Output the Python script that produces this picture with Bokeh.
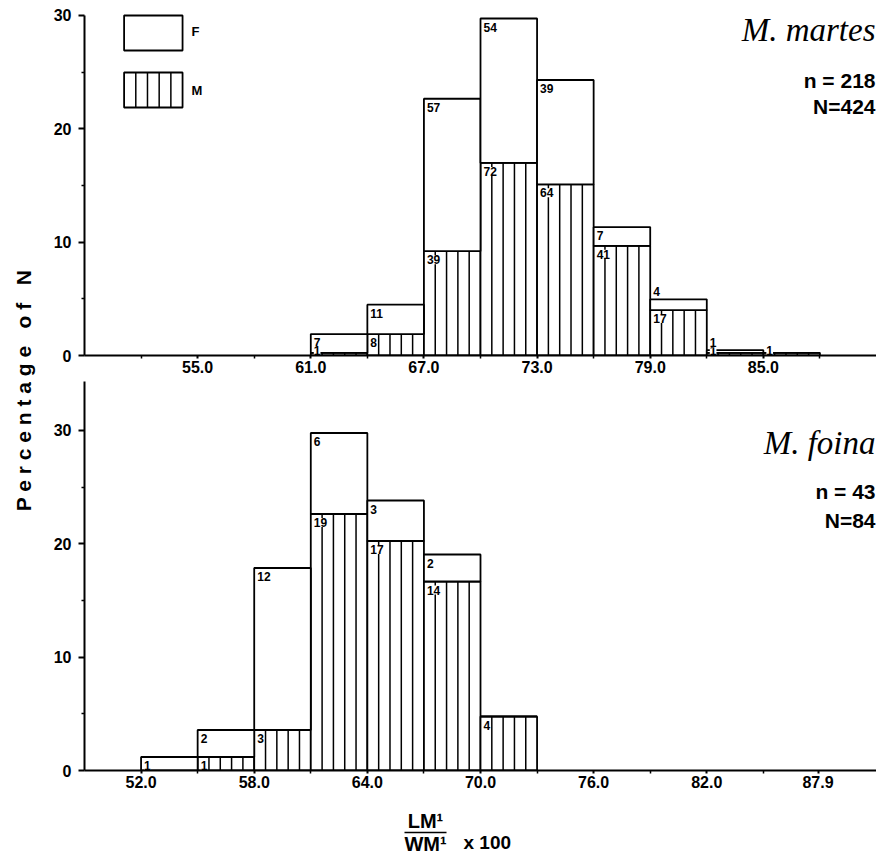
import math
import numpy as np
from bokeh.plotting import figure
from bokeh.layouts import row, column
from bokeh.models import Range1d, FixedTicker, PrintfTickFormatter
from bokeh.core.properties import value
from bokeh.embed import file_html
from bokeh.resources import INLINE

# ---------------- data ----------------
BIN_WIDTH = 3.0

top_bins = [61, 64, 67, 70, 73, 76, 79, 82, 85]
top_F = [7, 11, 57, 54, 39, 7, 4, 1, 0]
top_M = [1, 8, 39, 72, 64, 41, 17, 1, 1]
top_N_total = 424
top_n = 218
top_species = "M. martes"
top_ticks = [55.0, 61.0, 67.0, 73.0, 79.0, 85.0]
top_minor = [52.0, 58.0, 64.0, 70.0, 76.0, 82.0, 88.0]

bot_bins = [52, 55, 58, 61, 64, 67, 70]
bot_F = [1, 2, 12, 6, 3, 2, 0]
bot_M = [0, 1, 3, 19, 17, 14, 4]
bot_N_total = 84
bot_n = 43
bot_species = "M. foina"
bot_ticks = [52.0, 58.0, 64.0, 70.0, 76.0, 82.0, 87.9]
bot_minor = [55.0, 61.0, 67.0, 73.0, 79.0, 85.0]

y_ticks = [0, 10, 20, 30]
y_minor = [5, 15, 25]

# ---------------- layout ----------------
X0, X1 = 49.0, 91.0
TOP_PAD = 8
LEFT_W = 48
MAIN_W = 828
BORDER_L = 36
AX_H = 26
TOP_FRAME_H = 347
BOT_FRAME_H = 389
PX_PER_UNIT = 11.34
TOP_YMAX = TOP_FRAME_H / PX_PER_UNIT
BOT_YMAX = BOT_FRAME_H / PX_PER_UNIT
FRAC_H = 59

SANS = "Liberation Sans"
SERIF = "Liberation Serif"


def panel(bins, F, M, Ntot, ticks, minor, ymax, frame_h, y_bounds, pad_top):
    p = figure(width=MAIN_W, height=frame_h + AX_H + pad_top,
               x_range=Range1d(X0, X1), y_range=Range1d(0, ymax),
               output_backend="svg", toolbar_location=None,
               min_border_left=BORDER_L, min_border_right=0,
               min_border_top=pad_top, min_border_bottom=AX_H)
    p.grid.visible = False
    p.outline_line_color = None

    left = np.array(bins, dtype=float)
    right = left + BIN_WIDTH
    Ma = np.array(M, dtype=float)
    Fa = np.array(F, dtype=float)
    m = Ma / Ntot * 100.0
    t = (Ma + Fa) / Ntot * 100.0

    # male bars (hatched with vertical lines)
    p.quad(left=left, right=right, bottom=0, top=m,
           fill_color="white", line_color="black", line_width=1.8)
    hx, hy = [], []
    for l, h in zip(left, m):
        for k in range(1, 5):
            hx.append(l + BIN_WIDTH * k / 5.0)
            hy.append(h)
    p.segment(x0=hx, y0=[0] * len(hx), x1=hx, y1=hy,
              line_color="black", line_width=1.5)
    # female bars stacked above
    p.quad(left=left, right=right, bottom=m, top=t,
           fill_color="white", line_color="black", line_width=1.8)

    # count labels
    groups = {"top": ([], [], []), "middle": ([], [], []), "bottom": ([], [], [])}
    for i in range(len(bins)):
        if M[i] > 0:
            g = "top" if m[i] >= 1.0 else "middle"
            groups[g][0].append(left[i]); groups[g][1].append(m[i]); groups[g][2].append(str(M[i]))
        if F[i] > 0:
            g = "top" if (t[i] - m[i]) >= 1.0 else "bottom"
            groups[g][0].append(left[i]); groups[g][1].append(t[i]); groups[g][2].append(str(F[i]))
    offs = {"top": 4, "middle": -2, "bottom": -3}
    for g, (gx, gy, gt) in groups.items():
        if not gx:
            continue
        p.text(x=gx, y=gy, text=gt, x_offset=3, y_offset=offs[g],
               text_align="left", text_baseline=g,
               text_font=value(SANS), text_font_style="bold",
               text_font_size="12px", text_color="black",
               background_fill_color="white")

    # axes
    xa = p.xaxis[0]
    xa.ticker = FixedTicker(ticks=ticks, minor_ticks=minor)
    xa.formatter = PrintfTickFormatter(format="%.1f")
    xa.axis_line_width = 2
    xa.major_tick_line_width = 2
    xa.minor_tick_line_width = 1.5
    xa.major_tick_in = 0
    xa.major_tick_out = 3
    xa.minor_tick_in = 0
    xa.minor_tick_out = 3
    xa.major_label_standoff = 2
    xa.major_label_text_font = SANS
    xa.major_label_text_font_style = "bold"
    xa.major_label_text_font_size = "16px"
    xa.major_label_text_color = "black"

    ya = p.yaxis[0]
    ya.ticker = FixedTicker(ticks=y_ticks, minor_ticks=y_minor)
    ya.bounds = y_bounds
    ya.axis_line_width = 2
    ya.major_tick_line_width = 2
    ya.minor_tick_line_width = 1.5
    ya.major_tick_in = 0
    ya.major_tick_out = 6
    ya.minor_tick_in = 0
    ya.minor_tick_out = 3
    ya.major_label_standoff = 7
    ya.major_label_text_font = SANS
    ya.major_label_text_font_style = "bold"
    ya.major_label_text_font_size = "16px"
    ya.major_label_text_color = "black"
    return p


top = panel(top_bins, top_F, top_M, top_N_total, top_ticks, top_minor,
            TOP_YMAX, TOP_FRAME_H, (0, 30), TOP_PAD)
bot = panel(bot_bins, bot_F, bot_M, bot_N_total, bot_ticks, bot_minor,
            BOT_YMAX, BOT_FRAME_H, (0, BOT_YMAX), 0)

TOP_ZERO = TOP_PAD + TOP_FRAME_H
BOT_ZERO = TOP_ZERO + AX_H + BOT_FRAME_H


def ty(py):  # page pixel -> top data y
    return (TOP_ZERO - py) / PX_PER_UNIT


def by(py):  # page pixel -> bottom data y
    return (BOT_ZERO - py) / PX_PER_UNIT


# species names and counts
for p, yconv, sp, n, N, ys in [
        (top, ty, top_species, top_n, top_N_total, (29, 80, 106)),
        (bot, by, bot_species, bot_n, bot_N_total, (442, 491, 520))]:
    p.text(x=[X1], y=[yconv(ys[0])], text=[sp], x_offset=-1,
           text_align="right", text_baseline="middle",
           text_font=value(SERIF), text_font_style="italic",
           text_font_size="33px", text_color="black")
    p.text(x=[X1, X1], y=[yconv(ys[1]), yconv(ys[2])],
           text=[f"n = {n}", f"N={N}"], x_offset=-1,
           text_align="right", text_baseline="middle",
           text_font=value(SANS), text_font_style="bold",
           text_font_size="21px", text_color="black")

# legend (top panel)
leg_l, leg_r = 51.1, 54.2
top.quad(left=[leg_l], right=[leg_r], top=[ty(15)], bottom=[ty(50)],
         fill_color="white", line_color="black", line_width=1.8)
top.quad(left=[leg_l], right=[leg_r], top=[ty(72)], bottom=[ty(107)],
         fill_color="white", line_color="black", line_width=1.8)
lx = [leg_l + (leg_r - leg_l) * k / 5.0 for k in range(1, 5)]
top.segment(x0=lx, y0=[ty(107)] * 4, x1=lx, y1=[ty(72)] * 4,
            line_color="black", line_width=1.5)
top.text(x=[leg_r, leg_r], y=[ty(31), ty(90)], text=["F", "M"], x_offset=9,
         text_align="left", text_baseline="middle",
         text_font=value(SANS), text_font_style="bold",
         text_font_size="13px", text_color="black")

# y label figure (left strip, page coordinates)
TOTAL_H = TOP_PAD + TOP_FRAME_H + AX_H + BOT_FRAME_H + AX_H + FRAC_H
left_fig = figure(width=LEFT_W, height=TOTAL_H,
                  x_range=Range1d(0, LEFT_W), y_range=Range1d(TOTAL_H, 0),
                  output_backend="svg", toolbar_location=None,
                  min_border=0, x_axis_location=None, y_axis_location=None)
left_fig.grid.visible = False
left_fig.outline_line_color = None
left_fig.text(x=[23], y=[390],
              text=["P e r c e n t a g e \u00a0 o f \u00a0 N"], angle=math.pi / 2,
              text_align="center", text_baseline="middle",
              text_font=value(SANS), text_font_style="bold",
              text_font_size="21px", text_color="black")

# x label figure (fraction), page coordinates; frame aligned with panels
frac_top = BOT_ZERO + AX_H
frac_left = LEFT_W + BORDER_L
frac = figure(width=MAIN_W, height=FRAC_H,
              x_range=Range1d(frac_left, LEFT_W + MAIN_W),
              y_range=Range1d(frac_top + FRAC_H, frac_top),
              output_backend="svg", toolbar_location=None,
              min_border=0, min_border_left=BORDER_L,
              x_axis_location=None, y_axis_location=None)
frac.grid.visible = False
frac.outline_line_color = None
frac.text(x=[425, 425], y=[820, 843], text=["LM\u00b9", "WM\u00b9"],
          text_align="center", text_baseline="middle",
          text_font=value(SANS), text_font_style="bold",
          text_font_size="20px", text_color="black")
frac.segment(x0=[404], y0=[832], x1=[446], y1=[832], line_color="black", line_width=1.5)
frac.text(x=[463], y=[842], text=["x  100"],
          text_align="left", text_baseline="middle",
          text_font=value(SANS), text_font_style="bold",
          text_font_size="19px", text_color="black")

layout = row(left_fig, column(top, bot, frac))
open("out.html", "w").write(file_html(layout, INLINE))
